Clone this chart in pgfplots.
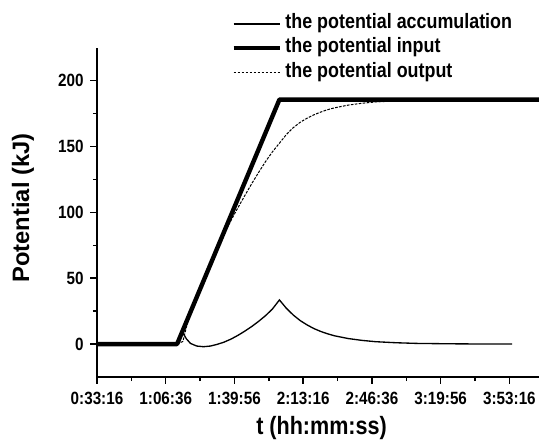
\documentclass[border=0pt]{standalone}
\usepackage{pgfplots}
\pgfplotsset{compat=1.18}
\usepackage{fontspec}
\setmainfont{Liberation Sans}
\newfontfamily\cond[FakeStretch=0.86]{Liberation Sans}
\begin{document}
\begin{tikzpicture}
\path[use as bounding box] (-72.75pt,-47.25pt) rectangle (331.5pt,282.75pt);
\begin{axis}[
  at={(0pt,0pt)}, anchor=south west,
  scale only axis, width=331.5pt, height=247pt,
  xmin=0, xmax=6.43, ymin=-25, ymax=225,
  axis x line*=bottom, axis y line*=left,
  axis line style={-, line width=1.1pt},
  tick align=outside,
  tick style={black, line width=1.1pt},
  major tick length=5pt, minor tick length=3pt,
  xtick={0,1,2,3,4,5,6},
  xticklabels={0:33:16,1:06:36,1:39:56,2:13:16,2:46:36,3:19:56,3:53:16},
  minor x tick num=1,
  ytick={0,50,100,150,200},
  minor y tick num=1,
  /pgf/number format/assume math mode=true,
  tick label style={font=\cond\fontsize{13.3}{15}\selectfont\bfseries},
  yticklabel style={xshift=-1.5pt},
  xticklabel style={yshift=-2.8pt},
  xlabel={t (hh:mm:ss)},
  ylabel={Potential (kJ)},
  xlabel style={at={(axis description cs:0.508,-0.176)}, anchor=base, font=\cond\fontsize{18.8}{22}\selectfont\bfseries},
  ylabel style={at={(axis description cs:-0.1674,0.513)}, anchor=center, font=\fontsize{17.8}{20}\selectfont\bfseries},
  legend style={draw=none, fill=none, inner sep=0pt, at={(axis description cs:0.3036,1.1098)}, anchor=north west,
    font=\cond\fontsize{15.6}{17}\selectfont\bfseries,
    nodes={inner sep=1.6pt, text height=11pt, text depth=4pt},
    column sep=1.1pt, row sep=0pt},
  legend cell align=left,
  legend image code/.code={\draw[#1] (0pt,0pt) -- (34.5pt,0pt);},
]
\addplot[black, line width=1pt] coordinates {
(0,0) (1.165,0) (1.21,6) (1.25,8.5) (1.30,4) (1.36,0.5) (1.45,-1.5) (1.55,-2)
(1.65,-1.5) (1.75,-0.2) (1.85,1.5) (1.95,3.8) (2.05,6.6) (2.15,9.8) (2.25,13.3)
(2.35,17.2) (2.45,21.5) (2.55,26.5) (2.654,33.5) (2.754,27.2) (2.854,22.1)
(2.954,17.9) (3.054,14.6) (3.154,11.8) (3.254,9.6) (3.354,7.8) (3.454,6.3)
(3.654,4.2) (3.854,2.8) (4.054,1.8) (4.354,1.0) (4.654,0.5) (5.154,0.2) (5.6,0.05) (6.04,0)
};
\addplot[black, line width=3.3pt, line join=round] coordinates {
(0,0) (1.165,0) (2.654,185.6) (6.43,185.6)
};
\addplot[black, line width=0.75pt, dash pattern=on 2pt off 1pt] coordinates {
(0,0) (1.165,0) (1.25,2) (1.30,12.8) (1.36,23.8) (1.45,37) (1.55,49.9) (1.65,61.8)
(1.75,73) (1.85,83.7) (1.95,93.9) (2.05,103.5) (2.15,112.7) (2.25,121.7) (2.35,130.2)
(2.45,138.4) (2.55,145.8) (2.654,152.5) (2.754,159) (2.854,164.2) (2.954,168.3)
(3.054,171.4) (3.154,174) (3.254,176.1) (3.354,177.9) (3.454,179.3) (3.654,181.4)
(3.854,182.8) (4.054,183.8) (4.354,184.6) (4.654,185.1) (5.154,185.4) (6.43,185.6)
};
\legend{the potential accumulation, the potential input, the potential output}
\end{axis}
\end{tikzpicture}
\end{document}
